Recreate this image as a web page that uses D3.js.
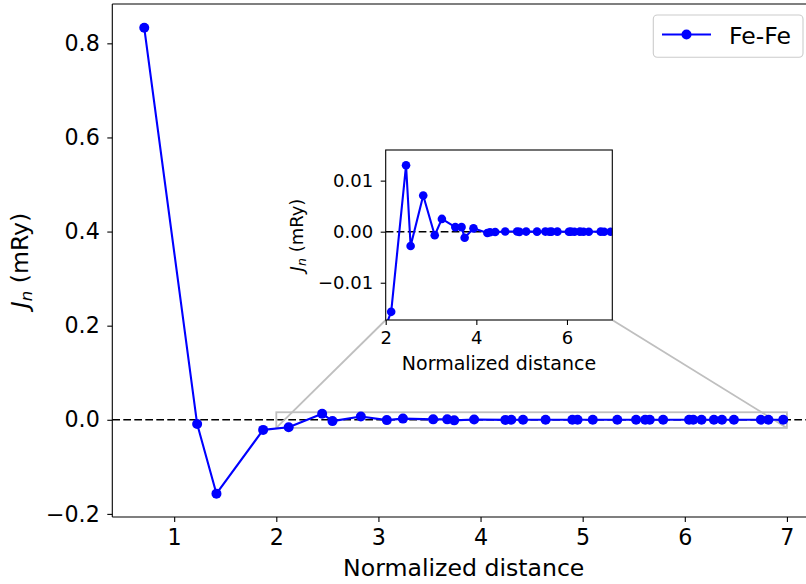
<!DOCTYPE html>
<html>
<head>
<meta charset="utf-8">
<script src="https://cdn.jsdelivr.net/npm/d3@7"></script>
<style>
  html, body { margin: 0; padding: 0; background: #fff; }
  svg { display: block; font-family: "DejaVu Sans", sans-serif; }
</style>
</head>
<body>
<svg id="chart" width="806" height="584"></svg>
<script>
// ---- data ----
const distances = [0.707, 1.225, 1.414, 1.871, 2.121, 2.449, 2.550, 2.828, 3.082, 3.240,
  3.536, 3.674, 3.742, 3.937, 4.243, 4.301, 4.416, 4.637, 4.899, 4.950,
  5.099, 5.339, 5.523, 5.612, 5.657, 5.788, 6.042, 6.083, 6.164, 6.285,
  6.364, 6.481, 6.745, 6.819, 6.964];
const jnValues = [0.833, -0.009, -0.157, -0.0215, -0.0157, 0.0130, -0.0028, 0.0071, -0.0007, 0.0025,
  0.0009, 0.0009, -0.0012, 0.00065, -0.00026, -0.0001, -0.00007, 0.00003, 0.00005, -0.00003,
  0.00002, 0.00001, 0.00002, -0.00001, 0.00001, 0.00001, -0.00001, 0.00001, 0.0, 0.00001,
  -0.00001, 0.0, 0.00001, 0.0, 0.0];
const seriesName = "Fe-Fe";
const mainXTicks = [1, 2, 3, 4, 5, 6, 7];
const mainYTicks = [-0.2, 0.0, 0.2, 0.4, 0.6, 0.8];
const insetXTicks = [2, 4, 6];
const insetYTicks = [-0.01, 0.0, 0.01];
const mainXDomain = [0.3941, 7.2769];
const mainYDomain = [-0.2066, 0.8836];
const insetXDomain = [2.0, 7.0];
const insetYDomain = [-0.0173, 0.0160];

const data = distances.map((d, i) => ({ x: d, y: jnValues[i] }));

const svg = d3.select("#chart");
const FONT = "DejaVu Sans";
const BLUE = "#0000ff";

// ---- main axes ----
const M = { left: 112.3, right: 815.2, top: 4, bottom: 517 };
const x = d3.scaleLinear().domain(mainXDomain).range([M.left, M.right]);
const y = d3.scaleLinear().domain(mainYDomain).range([M.bottom, M.top]);

svg.append("defs").append("clipPath").attr("id", "mainClip")
  .append("rect").attr("x", M.left).attr("y", M.top)
  .attr("width", M.right - M.left).attr("height", M.bottom - M.top);

// zero line
svg.append("line")
  .attr("x1", M.left).attr("x2", M.right)
  .attr("y1", y(0)).attr("y2", y(0))
  .attr("stroke", "#000").attr("stroke-width", 1.5)
  .attr("stroke-dasharray", "7.7,3.3");

// inset geometry
const I = { left: 385.7, right: 612.3, top: 150, bottom: 320 };
const xi = d3.scaleLinear().domain(insetXDomain).range([I.left, I.right]);
const yi = d3.scaleLinear().domain(insetYDomain).range([I.bottom, I.top]);

// indicator box and connectors
const gInd = svg.append("g").attr("clip-path", "url(#mainClip)");
gInd.append("rect")
  .attr("x", x(insetXDomain[0])).attr("y", y(insetYDomain[1]))
  .attr("width", x(insetXDomain[1]) - x(insetXDomain[0]))
  .attr("height", y(insetYDomain[0]) - y(insetYDomain[1]))
  .attr("fill", "none").attr("stroke", "#bfbfbf").attr("stroke-width", 1.8);
gInd.append("line")
  .attr("x1", x(insetXDomain[0])).attr("y1", y(insetYDomain[0]))
  .attr("x2", I.left).attr("y2", I.bottom)
  .attr("stroke", "#bfbfbf").attr("stroke-width", 1.8);
gInd.append("line")
  .attr("x1", x(insetXDomain[1])).attr("y1", y(insetYDomain[0]))
  .attr("x2", I.right).attr("y2", I.bottom)
  .attr("stroke", "#bfbfbf").attr("stroke-width", 1.8);

// series
const gData = svg.append("g").attr("clip-path", "url(#mainClip)");
const line = d3.line().x(d => x(d.x)).y(d => y(d.y));
gData.append("path").datum(data).attr("d", line)
  .attr("fill", "none").attr("stroke", BLUE).attr("stroke-width", 2.1)
  .attr("stroke-linejoin", "round");
gData.selectAll("circle").data(data).enter().append("circle")
  .attr("cx", d => x(d.x)).attr("cy", d => y(d.y)).attr("r", 5)
  .attr("fill", BLUE);

// axes
const xAxis = d3.axisBottom(x).tickValues(mainXTicks).tickFormat(d3.format("d"))
  .tickSize(5).tickPadding(7).tickSizeOuter(0);
const gx = svg.append("g").attr("transform", `translate(0,${M.bottom})`).call(xAxis);
const yAxis = d3.axisLeft(y).tickValues(mainYTicks).tickFormat(d3.format(".1f"))
  .tickSize(5).tickPadding(7.5).tickSizeOuter(0);
const gy = svg.append("g").attr("transform", `translate(${M.left},0)`).call(yAxis);
[gx, gy].forEach(g => {
  g.select(".domain").remove();
  g.selectAll(".tick line").attr("stroke", "#000").attr("stroke-width", 1.1);
  g.selectAll(".tick text").attr("font-family", FONT).attr("font-size", 22.2).attr("fill", "#000");
});

// spines
const spine = (x1, y1, x2, y2) => svg.append("line")
  .attr("x1", x1).attr("y1", y1).attr("x2", x2).attr("y2", y2)
  .attr("stroke", "#000").attr("stroke-width", 1.1);
spine(M.left, M.top, M.left, M.bottom);
spine(M.left, M.bottom, M.right, M.bottom);
spine(M.left, M.top, M.right, M.top);
spine(M.right, M.top, M.right, M.bottom);

// labels
svg.append("text").attr("x", (M.left + M.right) / 2).attr("y", 576)
  .attr("text-anchor", "middle").attr("font-family", FONT).attr("font-size", 23.6)
  .text("Normalized distance");

function jLabel(g, size) {
  const t = g.append("text").attr("text-anchor", "middle")
    .attr("font-family", FONT).attr("font-size", size);
  t.append("tspan").attr("font-style", "italic").text("J");
  t.append("tspan").attr("font-style", "italic").attr("font-size", size * 0.7)
    .attr("dy", size * 0.2).text("n");
  t.append("tspan").attr("dy", -size * 0.2).text(" (mRy)");
  return t;
}
jLabel(svg.append("g").attr("transform", `translate(27.5,${(M.top + M.bottom) / 2}) rotate(-90)`), 23.6);

// legend
const L = svg.append("g");
L.append("rect").attr("x", 653.3).attr("y", 15).attr("width", 149.7).attr("height", 42.3)
  .attr("rx", 4).attr("fill", "#fff").attr("fill-opacity", 0.8)
  .attr("stroke", "#cccccc").attr("stroke-width", 1.1);
L.append("line").attr("x1", 662).attr("x2", 711).attr("y1", 34.5).attr("y2", 34.5)
  .attr("stroke", BLUE).attr("stroke-width", 2.1);
L.append("circle").attr("cx", 686.5).attr("cy", 34.5).attr("r", 5).attr("fill", BLUE);
L.append("text").attr("x", 729).attr("y", 43.5).attr("font-family", FONT)
  .attr("font-size", 23.5).text(seriesName);

// ---- inset ----
const gI = svg.append("g");
gI.append("rect").attr("x", I.left).attr("y", I.top)
  .attr("width", I.right - I.left).attr("height", I.bottom - I.top).attr("fill", "#fff");
svg.select("defs").append("clipPath").attr("id", "insetClip")
  .append("rect").attr("x", I.left).attr("y", I.top)
  .attr("width", I.right - I.left).attr("height", I.bottom - I.top);
const gIc = gI.append("g").attr("clip-path", "url(#insetClip)");
gIc.append("line").attr("x1", I.left).attr("x2", I.right)
  .attr("y1", yi(0)).attr("y2", yi(0))
  .attr("stroke", "#000").attr("stroke-width", 1.5).attr("stroke-dasharray", "7.7,3.3");
const lineI = d3.line().x(d => xi(d.x)).y(d => yi(d.y));
gIc.append("path").datum(data).attr("d", lineI)
  .attr("fill", "none").attr("stroke", BLUE).attr("stroke-width", 2.1)
  .attr("stroke-linejoin", "round");
gIc.selectAll("circle").data(data).enter().append("circle")
  .attr("cx", d => xi(d.x)).attr("cy", d => yi(d.y)).attr("r", 4.3)
  .attr("fill", BLUE);

const xAxisI = d3.axisBottom(xi).tickValues(insetXTicks).tickFormat(d3.format("d"))
  .tickSize(5).tickPadding(6.5).tickSizeOuter(0);
const gxi = gI.append("g").attr("transform", `translate(0,${I.bottom})`).call(xAxisI);
const yAxisI = d3.axisLeft(yi).tickValues(insetYTicks).tickFormat(d3.format(".2f"))
  .tickSize(5).tickPadding(7.5).tickSizeOuter(0);
const gyi = gI.append("g").attr("transform", `translate(${I.left},0)`).call(yAxisI);
[gxi, gyi].forEach(g => {
  g.select(".domain").remove();
  g.selectAll(".tick line").attr("stroke", "#000").attr("stroke-width", 1.1);
  g.selectAll(".tick text").attr("font-family", FONT).attr("font-size", 18).attr("fill", "#000");
});
gI.append("rect").attr("x", I.left).attr("y", I.top)
  .attr("width", I.right - I.left).attr("height", I.bottom - I.top)
  .attr("fill", "none").attr("stroke", "#000").attr("stroke-width", 1.1);

gI.append("text").attr("x", (I.left + I.right) / 2).attr("y", 370)
  .attr("text-anchor", "middle").attr("font-family", FONT).attr("font-size", 19)
  .text("Normalized distance");
jLabel(gI.append("g").attr("transform", `translate(302.5,${(I.top + I.bottom) / 2}) rotate(-90)`), 18);
</script>
</body>
</html>
